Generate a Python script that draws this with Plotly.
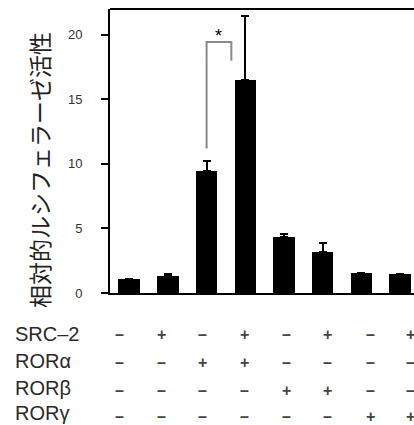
import plotly.graph_objects as go

# Relative luciferase activity for each transfection condition
conditions = ["1", "2", "3", "4", "5", "6", "7", "8"]
activity = [1.05, 1.31, 9.42, 16.5, 4.35, 3.2, 1.52, 1.44]
activity_err = [0.03, 0.13, 0.77, 4.95, 0.21, 0.64, 0.02, 0.07]

# Co-transfection table shown under the bars
row_labels = ["SRC\u20132", "ROR\u03b1", "ROR\u03b2", "ROR\u03b3"]
src2 = ["\u2013", "+", "\u2013", "+", "\u2013", "+", "\u2013", "+"]
ror_a = ["\u2013", "\u2013", "+", "+", "\u2013", "\u2013", "\u2013", "\u2013"]
ror_b = ["\u2013", "\u2013", "\u2013", "\u2013", "+", "+", "\u2013", "\u2013"]
ror_g = ["\u2013", "\u2013", "\u2013", "\u2013", "\u2013", "\u2013", "+", "+"]
sign_rows = [src2, ror_a, ror_b, ror_g]

y_ticks = [0, 5, 10, 15, 20]
y_title = "相対的ルシフェラーゼ活性"

W, H = 414, 425
ML, MR, MT, MB = 110, 0, 9, 132
PW, PH = W - ML - MR, H - MT - MB

LATIN = "Liberation Sans, Arial, Helvetica, sans-serif"
CJK = "Noto Sans CJK JP, sans-serif"


def px_x(px):
    return (px - ML) / PW


def px_y(py):
    return (H - MB - py) / PH


fig = go.Figure()
fig.add_trace(go.Bar(
    x=list(range(len(conditions))),
    y=activity,
    width=0.556,
    marker=dict(color="black", line=dict(width=0)),
    error_y=dict(type="data", symmetric=False, array=activity_err,
                 arrayminus=[0] * len(activity_err),
                 color="black", thickness=2, width=4),
    hoverinfo="skip",
))

# significance bracket between RORα and RORα + SRC-2
fig.add_shape(type="path", xref="x", yref="y",
              path="M 2.0,11.2 L 2.0,19.45 L 2.64,19.45 L 2.64,18.0",
              line=dict(color="#8a8a8a", width=2))
fig.add_annotation(x=2.3, y=19.9, xref="x", yref="y", text="*",
                   showarrow=False, font=dict(family=LATIN, size=18, color="black"))

# top frame line (no right border)
fig.add_shape(type="line", xref="paper", yref="paper", x0=0, x1=1, y0=1, y1=1,
              line=dict(color="black", width=2))

# y-axis title
fig.add_annotation(x=px_x(39), y=px_y(170), xref="paper", yref="paper",
                   text=y_title, textangle=-90, showarrow=False,
                   xanchor="center", yanchor="middle",
                   font=dict(family=CJK, size=23, color="#222222"))

# table beneath the chart
label_px = [334, 361, 387.5, 413]
sign_px = [334, 363, 390.5, 416]
col_px = [119.3, 161, 202.7, 244.3, 286.7, 327.7, 370, 410.7]
for label, signs, ly, sy in zip(row_labels, sign_rows, label_px, sign_px):
    fig.add_annotation(x=px_x(13), y=px_y(ly), xref="paper", yref="paper",
                       text=label, showarrow=False, xanchor="left", yanchor="middle",
                       font=dict(family=LATIN, size=20, color="#2a2a2a"))
    for s, cx in zip(signs, col_px):
        fig.add_annotation(x=px_x(cx), y=px_y(sy), xref="paper", yref="paper",
                           text=s, showarrow=False, xanchor="center", yanchor="middle",
                           font=dict(family=LATIN, size=16, color="#444444",
                                     weight="bold"))

fig.update_layout(
    width=W, height=H,
    margin=dict(l=ML, r=MR, t=MT, b=MB, pad=0),
    paper_bgcolor="white", plot_bgcolor="white",
    showlegend=False,
    bargap=0,
    xaxis=dict(range=[-0.496, 7.36], showticklabels=False, ticks="",
               showgrid=False, zeroline=False, showline=True,
               linecolor="black", linewidth=2, fixedrange=True),
    yaxis=dict(range=[0, 22], tickvals=y_ticks, ticktext=[str(v) for v in y_ticks],
               ticks="outside", ticklen=7, tickwidth=2, tickcolor="black",
               ticklabelstandoff=16,
               tickfont=dict(family=LATIN, size=13, color="#333333"),
               showgrid=False, zeroline=False, showline=True,
               linecolor="black", linewidth=2, fixedrange=True),
)

fig.write_html("out.html", config={"displayModeBar": False})
